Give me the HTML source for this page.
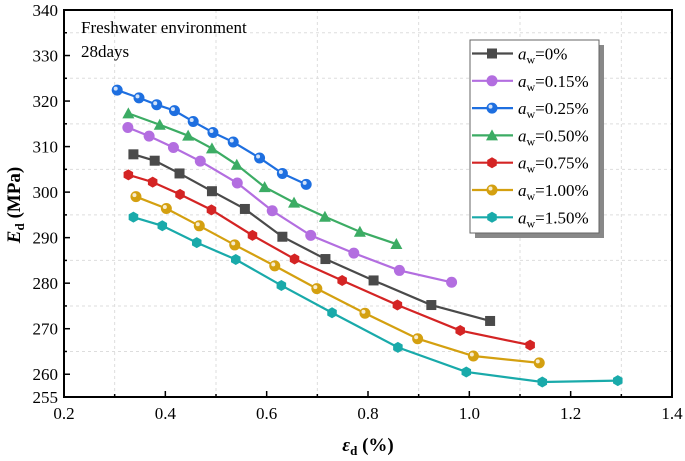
<!DOCTYPE html>
<html><head><meta charset="utf-8"><style>
html,body{margin:0;padding:0;background:#fff;}
svg{display:block;font-family:"Liberation Serif",serif;}
</style></head><body>
<svg id="chart" width="685" height="461" viewBox="0 0 685 461"></svg>
<script>
const xTicks=[0.2,0.4,0.6,0.8,1.0,1.2,1.4];
const xTickLabels=["0.2","0.4","0.6","0.8","1.0","1.2","1.4"];
const yTicks=[255,260,270,280,290,300,310,320,330,340];
const yTickLabels=["255","260","270","280","290","300","310","320","330","340"];
const seriesNames=["0%","0.15%","0.25%","0.50%","0.75%","1.00%","1.50%"];
const x0=[0.337,0.379,0.428,0.492,0.557,0.631,0.716,0.811,0.925,1.041];
const y0=[308.3,306.9,304.1,300.2,296.3,290.2,285.3,280.6,275.2,271.7];
const x15=[0.326,0.368,0.416,0.469,0.542,0.611,0.687,0.772,0.862,0.965];
const y15=[314.2,312.3,309.8,306.8,302.0,295.9,290.5,286.6,282.8,280.2];
const x25=[0.305,0.348,0.383,0.418,0.455,0.494,0.534,0.586,0.631,0.678];
const y25=[322.4,320.7,319.2,317.9,315.5,313.1,311.0,307.5,304.1,301.7];
const x50=[0.327,0.389,0.445,0.492,0.541,0.596,0.654,0.715,0.784,0.856];
const y50=[317.3,314.8,312.4,309.6,306.0,301.1,297.7,294.6,291.3,288.6];
const x75=[0.327,0.375,0.429,0.491,0.572,0.655,0.749,0.858,0.982,1.120];
const y75=[303.8,302.2,299.5,296.1,290.5,285.3,280.6,275.2,269.6,266.4];
const x100=[0.342,0.402,0.467,0.537,0.616,0.699,0.794,0.898,1.008,1.138];
const y100=[299.0,296.4,292.6,288.4,283.8,278.8,273.4,267.8,264.0,262.5];
const x150=[0.337,0.394,0.462,0.539,0.629,0.729,0.859,0.994,1.144,1.293];
const y150=[294.5,292.6,288.9,285.2,279.5,273.5,265.9,260.5,258.3,258.6];

const NS="http://www.w3.org/2000/svg";
const svg=document.getElementById('chart');
const L=64,R=672,T=10,B=397;
const xs=v=>L+(v-0.2)/(1.2)*(R-L);
const ys=v=>B-(v-255)/85*(B-T);
function mk(tag,attrs,parent){const e=document.createElementNS(NS,tag);for(const k in attrs)e.setAttribute(k,attrs[k]);(parent||svg).appendChild(e);return e;}

const grid=mk('g',{});


for(let v=0.3;v<1.35;v+=0.2){mk('line',{x1:xs(v),x2:xs(v),y1:T,y2:B,stroke:'#ddd','stroke-dasharray':'3,3','stroke-width':1},grid);}
for(let v=265;v<340;v+=10){mk('line',{x1:L,x2:R,y1:ys(v),y2:ys(v),stroke:'#ddd','stroke-dasharray':'3,3','stroke-width':1},grid);}

const cols=['#4a4a4a','#b36ee0','#1e6fe0','#3cac64','#d42424','#d4a010','#19aaaa'];
const xsArr=[x0,x15,x25,x50,x75,x100,x150];
const ysArr=[y0,y15,y25,y50,y75,y100,y150];
const shapes=['square','circle','ball','triangle','hex','ball','hex'];
function marker(g,shape,cx,cy,c){
  if(shape==='square')return mk('rect',{x:cx-5,y:cy-5,width:10,height:10,fill:c},g);
  if(shape==='triangle')return mk('polygon',{points:`${cx},${cy-6} ${cx+6},${cy+5} ${cx-6},${cy+5}`,fill:c},g);
  if(shape==='hex'){let p=[];for(let i=0;i<6;i++){const a=Math.PI/3*i+Math.PI/6;p.push((cx+5.5*Math.cos(a))+','+(cy+5.5*Math.sin(a)));}return mk('polygon',{points:p.join(' '),fill:c},g);}
  const e=mk('circle',{cx:cx,cy:cy,r:5.5,fill:c},g);
  if(shape==='ball')mk('circle',{cx:cx-1.5,cy:cy-1.5,r:2,fill:'#fff',opacity:0.8},g);
  return e;
}
for(let s=0;s<7;s++){
  const g=mk('g',{});
  
  
  const pts=xsArr[s].map((x,i)=>xs(x)+','+ys(ysArr[s][i])).join(' ');
  mk('polyline',{points:pts,fill:'none',stroke:cols[s],'stroke-width':2.2},g);
  xsArr[s].forEach((x,i)=>{const m=marker(g,shapes[s],xs(x),ys(ysArr[s][i]),cols[s]);
    
    });
}

const fr=mk('rect',{x:L,y:T,width:R-L,height:B-T,fill:'none',stroke:'#000','stroke-width':2});


xTicks.forEach((v,i)=>{mk('line',{x1:xs(v),x2:xs(v),y1:B,y2:B-6,stroke:'#000','stroke-width':1.5});
  const t=mk('text',{x:xs(v),y:419,'text-anchor':'middle','font-size':17});t.textContent=xTickLabels[i];
  
  });
for(let v=0.3;v<1.35;v+=0.2)mk('line',{x1:xs(v),x2:xs(v),y1:B,y2:B-3,stroke:'#000','stroke-width':1.5});
yTicks.forEach((v,i)=>{mk('line',{x1:L,x2:L+6,y1:ys(v),y2:ys(v),stroke:'#000','stroke-width':1.5});
  const t=mk('text',{x:58,y:ys(v)+6,'text-anchor':'end','font-size':17});t.textContent=yTickLabels[i];
  
  });
for(let v=265;v<340;v+=10)mk('line',{x1:L,x2:L+3,y1:ys(v),y2:ys(v),stroke:'#000','stroke-width':1.5});
</script>
<script>
const NS2="http://www.w3.org/2000/svg";
const s2=document.getElementById('chart');
function add(html){const g=document.createElementNS(NS2,'g');g.innerHTML=html;s2.appendChild(g);return g;}
add(`<text x="368" y="451" text-anchor="middle" font-size="19" font-weight="bold"><tspan font-style="italic">ε</tspan><tspan font-size="13" dy="4">d</tspan><tspan dy="-4"> (%)</tspan></text>
<text transform="translate(20,205) rotate(-90)" text-anchor="middle" font-size="19" font-weight="bold"><tspan font-style="italic">E</tspan><tspan font-size="13" dy="4">d</tspan><tspan dy="-4">  (MPa)</tspan></text>
<text x="81" y="33" font-size="17">Freshwater environment</text>
<text x="81" y="57" font-size="17">28days</text>
<g>
<rect x="475" y="45" width="129" height="193" fill="#888"/>
<rect x="470" y="40" width="129" height="193" fill="#fff" stroke="#666" stroke-width="1"/>
</g>`);
const lc=['#4a4a4a','#b36ee0','#1e6fe0','#3cac64','#d42424','#d4a010','#19aaaa'];
const ln=['0%','0.15%','0.25%','0.50%','0.75%','1.00%','1.50%'];
const lsh=['square','circle','ball','triangle','hex','ball','hex'];
lc.forEach((c,i)=>{const y=53.5+i*27.3;let m;
  if(lsh[i]==='square')m=`<rect x="487" y="${y-5}" width="10" height="10" fill="${c}"/>`;
  else if(lsh[i]==='triangle')m=`<polygon points="492,${y-6} 498,${y+5} 486,${y+5}" fill="${c}"/>`;
  else if(lsh[i]==='hex'){let p=[];for(let k=0;k<6;k++){const a=Math.PI/3*k+Math.PI/6;p.push((492+5.5*Math.cos(a))+','+(y+5.5*Math.sin(a)));}m=`<polygon points="${p.join(' ')}" fill="${c}"/>`;}
  else m=`<circle cx="492" cy="${y}" r="5.5" fill="${c}"/>`+(lsh[i]==='ball'?`<circle cx="490.5" cy="${y-1.5}" r="2" fill="#fff" opacity="0.8"/>`:'');
  add(`<g><line x1="472" x2="513" y1="${y}" y2="${y}" stroke="${c}" stroke-width="2.2"/>${m}<text x="518" y="${y+6}" font-size="17"><tspan font-style="italic">a</tspan><tspan font-size="12" dy="4">w</tspan><tspan dy="-4">=${ln[i]}</tspan></text></g>`);
});
</script>
</body></html>
